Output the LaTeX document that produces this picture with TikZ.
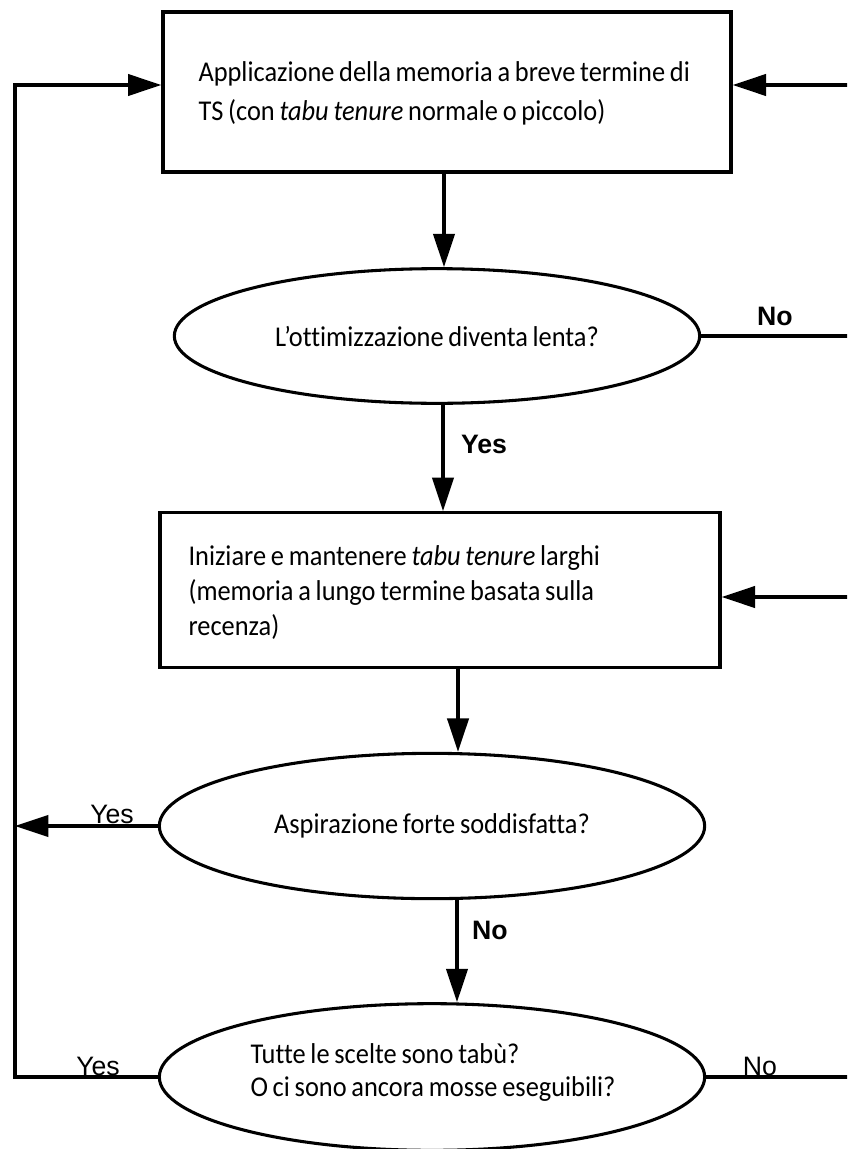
\documentclass[tikz,border=0pt]{standalone}
\usepackage{fontspec}
\setmainfont[WordSpace={0.8,0,0}, Ligatures={NoCommon}, FakeStretch=0.92]{Carlito}
\newfontfamily\labelfont{Liberation Sans}
\usetikzlibrary{arrows.meta,shapes.geometric}
\begin{document}
\begin{tikzpicture}[x=0.75pt,y=-0.75pt,
  line width=2.3pt,
  flow/.style={-{Triangle[length=25pt,width=16pt]}},
  stepbox/.style={draw, rectangle, line width=2.5pt},
  question/.style={draw, ellipse, inner sep=0pt, align=left,
    font=\fontsize{21.5}{28}\selectfont},
  btext/.style={inner sep=0pt, anchor=west, align=left},
  lbl/.style={inner sep=0pt, font=\labelfont\fontsize{20}{24}\selectfont},
  blbl/.style={lbl, font=\labelfont\bfseries\fontsize{20}{24}\selectfont}
]
\useasboundingbox (0,0) rectangle (847,1149);
\clip (0,0) rectangle (847,1149);

% process boxes
\node[stepbox, minimum width=426pt, minimum height=120pt] (b1) at (447,92) {};
\node[btext, font=\fontsize{21.5}{29.25}\selectfont] (b1t) at (197,93)
  {Applicazione della memoria a breve termine di\\TS (con \textit{tabu tenure} normale o piccolo)};
\node[stepbox, minimum width=420pt, minimum height=116pt] (b2) at (440,590) {};
\node[btext, font=\fontsize{21.5}{26.25}\selectfont] (b2t) at (187,593)
  {Iniziare e mantenere \textit{tabu tenure} larghi\\(memoria a lungo termine basata sulla\\recenza)};

% decisions
\node[question, minimum width=394pt, minimum height=101pt] (e1) at (437,336)
  {L’ottimizzazione diventa lenta?};
\node[question, minimum width=409pt, minimum height=109pt] (e2) at (432,826)
  {Aspirazione forte soddisfatta?};
\node[question, minimum width=409pt, minimum height=110pt] (e3) at (432,1077) {};
\node[btext, font=\fontsize{21.5}{24.75}\selectfont] (e3t) at (249,1072)
  {Tutte le scelte sono tabù?\\O ci sono ancora mosse eseguibili?};

% turning points of the feedback loops
\coordinate (lt) at (15,85);
\coordinate (rt) at (853,85);
\coordinate (r2) at (853,597);

% main flow
\draw[flow] (b1.south -| 444,0) -- (e1.north -| 444,0);
\draw[flow] (e1.south -| 443,0) -- (b2.north -| 443,0);
\draw[flow] (b2.south -| 458,0) -- (e2.north -| 458,0);
\draw[flow] (e2.south -| 457,0) -- (e3.north -| 457,0);

% loops back to the top
\draw[flow] (e3.west) -- (e3.west -| lt) -- (lt) -- (lt -| b1.west);
\draw[flow] (e2.west) -- (e2.west -| lt);
\draw[flow] (e1.east) -- (e1.east -| rt) -- (rt) -- (rt -| b1.east);
\draw[flow] (e3.east) -- (e3.east -| r2) -- (r2) -- (r2 -| b2.east);

% branch labels
\node[blbl] (noA) at (775,316) {No};
\node[blbl] (yesA) at (484,444) {Yes};
\node[blbl] (noB) at (490,930) {No};
\node[lbl, anchor=base] (yesB) at (112,823) {Yes};
\node[lbl, anchor=base] (yesC) at (98,1075) {Yes};
\node[lbl, anchor=base] (noC) at (760,1075) {No};
\end{tikzpicture}
\end{document}
